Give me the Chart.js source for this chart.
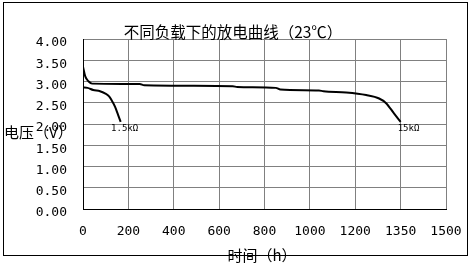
<!DOCTYPE html>
<html>
<head>
<meta charset="utf-8">
<script src="https://cdn.jsdelivr.net/npm/chart.js@4"></script>
<style>
  html, body { margin: 0; padding: 0; background: #fff; }
  #wrap { width: 471px; height: 264px; }
</style>
</head>
<body>
<div id="wrap"><canvas id="myChart" width="471" height="264"></canvas></div>
<script>
const title = '不同负载下的放电曲线（23℃）';
const xTitle = '时间（h）';
const yTitle = '电压（V）';
const xTickLabels = ['0', '200', '400', '600', '800', '1000', '1200', '1350', '1500'];

// 15kΩ load, hours / volts
const hours15k = [0, 10, 25, 40, 250, 270, 660, 680, 850, 870, 1040, 1060, 1160, 1236, 1279, 1302, 1328, 1350];
const volts15k = [3.35, 3.12, 3.00, 2.95, 2.94, 2.91, 2.89, 2.87, 2.85, 2.81, 2.79, 2.77, 2.74, 2.68, 2.60, 2.49, 2.25, 2.05];

// 1.5kΩ load
const hours1k5 = [0, 20, 45, 75, 97, 115, 126, 141, 155, 166];
const volts1k5 = [2.86, 2.85, 2.80, 2.77, 2.72, 2.65, 2.56, 2.41, 2.21, 2.05];

const seriesNames = ['1.5kΩ', '15kΩ'];

// axis is evenly spaced per label, but 1200 -> 1350 -> 1500 steps are 150h
function toAxis(h) {
    return h <= 1200 ? h : 1200 + (h - 1200) * 200 / 150;
}
function points(hs, vs) {
    return hs.map((h, i) => ({ x: toAxis(h), y: vs[i] }));
}

const mono = '"DejaVu Sans Mono", monospace';
const cjk = '"Noto Sans CJK SC", sans-serif';

const frame = {
    id: 'frame',
    afterDraw(chart) {
        const c = chart.ctx;
        c.save();
        c.strokeStyle = '#000';
        c.lineWidth = 1;
        c.strokeRect(3.5, 2.5, 464, 253);

        c.fillStyle = '#000';
        c.textBaseline = 'middle';
        c.textAlign = 'center';
        c.font = '15.5px ' + cjk;
        c.fillText(title, 233, 32);

        c.font = '15px ' + cjk;
        c.textAlign = 'left';
        c.fillText(yTitle, 4, 132);

        c.textAlign = 'center';
        c.fillText(xTitle, 262, 255);

        // labels at the end of each curve
        c.font = '9px ' + mono;
        const end1 = chart.getDatasetMeta(0).data.at(-1);
        const end2 = chart.getDatasetMeta(1).data.at(-1);
        c.textAlign = 'center';
        c.fillText(seriesNames[0], end1.x + 4, end1.y + 7);
        c.textAlign = 'left';
        c.fillText(seriesNames[1], end2.x - 3, end2.y + 7);
        c.restore();
    }
};

const myChart = new Chart('myChart', {
    type: 'line',
    data: {
        datasets: [{
            label: seriesNames[0],
            data: points(hours1k5, volts1k5),
            borderColor: '#000',
            borderWidth: 2,
            pointRadius: 0,
            cubicInterpolationMode: 'monotone'
        }, {
            label: seriesNames[1],
            data: points(hours15k, volts15k),
            borderColor: '#000',
            borderWidth: 2,
            pointRadius: 0,
            cubicInterpolationMode: 'monotone'
        }]
    },
    options: {
        responsive: false,
        animation: false,
        layout: {
            padding: { top: 39, right: 25, left: 0, bottom: 0 }
        },
        scales: {
            x: {
                type: 'linear',
                min: 0,
                max: 1600,
                afterFit(scale) {
                    scale.height = 55;
                    scale.paddingLeft = 0;
                    scale.paddingRight = 0;
                },
                ticks: {
                    stepSize: 200,
                    padding: 15,
                    color: '#000',
                    font: { family: mono, size: 13 },
                    maxRotation: 0,
                    callback: (v, i) => xTickLabels[i]
                },
                grid: { color: '#808080', drawTicks: false },
                border: { color: '#000' }
            },
            y: {
                min: 0,
                max: 4,
                afterFit(scale) {
                    scale.width = 83;
                    scale.paddingTop = 0;
                    scale.paddingBottom = 0;
                },
                ticks: {
                    stepSize: 0.5,
                    padding: 16,
                    labelOffset: 4,
                    color: '#000',
                    font: { family: mono, size: 13 },
                    callback: v => v.toFixed(2)
                },
                grid: { color: '#808080', drawTicks: false },
                border: { color: '#000' }
            }
        },
        plugins: {
            legend: false,
            tooltip: { enabled: false }
        }
    },
    plugins: [frame]
});
</script>
</body>
</html>
